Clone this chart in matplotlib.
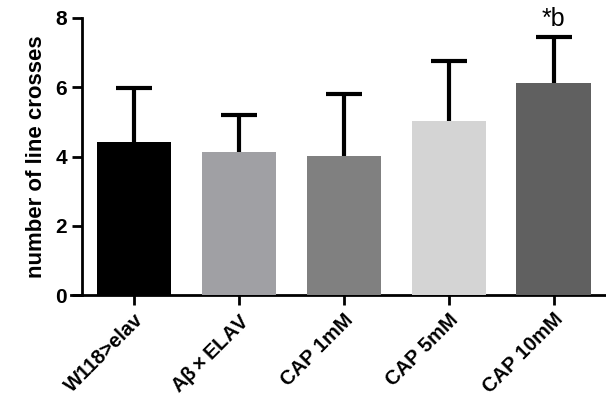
import numpy as np
import matplotlib
matplotlib.use("Agg")
import matplotlib.pyplot as plt

plt.rcParams["font.family"] = ["Liberation Sans", "DejaVu Sans"]

groups = ["W118>elav", "A$\\mathregular{\\beta\\times}$ELAV", "CAP 1mM", "CAP 5mM", "CAP 10mM"]
means = [4.42, 4.12, 4.03, 5.03, 6.12]
err_up = [1.55, 1.07, 1.78, 1.72, 1.33]
colors = ["#000000", "#a0a0a4", "#808080", "#d4d4d4", "#606060"]

fig = plt.figure(figsize=(6.06, 3.98), dpi=100)
ax = fig.add_axes([0.135, 0.258, 0.865, 0.697])

x = np.arange(len(groups))
ax.bar(x, means, width=0.71, color=colors, zorder=3)
_, caps, _ = ax.errorbar(x, means, yerr=[np.zeros(len(means)), err_up], fmt="none",
                         ecolor="black", elinewidth=3, capsize=13, capthick=3, zorder=2)
caps[0].set_visible(False)  # no cap at bar top

ax.text(4, 7.62, "*b", ha="center", va="bottom", fontsize=18)

ax.set_ylim(0, 8)
ax.set_xlim(-0.5, 4.5)
ax.set_yticks([0, 2, 4, 6, 8])
ax.set_xticks(x)
ax.set_xticklabels(groups, rotation=45, ha="right", rotation_mode="anchor",
                   fontsize=14.5, fontweight="bold")
for t in ax.get_yticklabels():
    t.set_fontsize(15)
    t.set_fontweight("bold")
ax.set_ylabel("number of line crosses", fontsize=16, fontweight="bold", labelpad=6)

ax.spines["top"].set_visible(False)
ax.spines["right"].set_visible(False)
ax.spines["left"].set_linewidth(2)
ax.spines["bottom"].set_linewidth(2)
ax.spines["bottom"].set_bounds(-0.6, 4.5)
ax.tick_params(width=2, length=7)

fig.savefig("out.png", dpi=100)
